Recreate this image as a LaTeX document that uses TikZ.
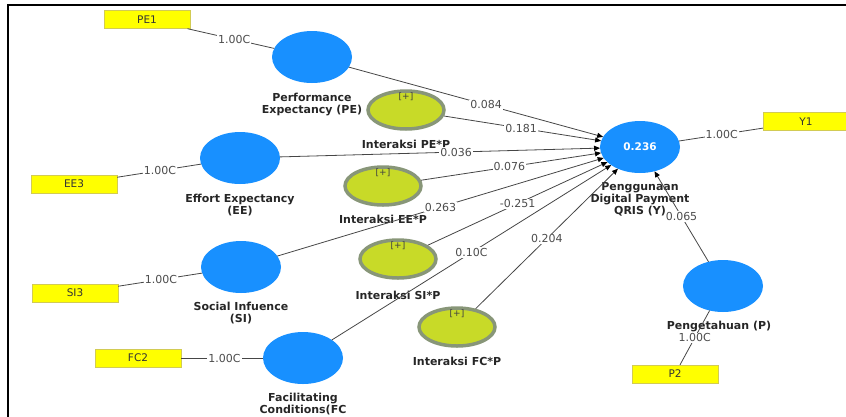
\documentclass[tikz,border=0pt]{standalone}
\usepackage{fontspec}
\setmainfont{DejaVu Sans}
\usepackage{tikz}
\usetikzlibrary{arrows.meta,shapes.geometric,positioning}
\definecolor{lvblue}{RGB}{24,144,255}
\definecolor{intgreen}{RGB}{200,218,40}
\definecolor{intrim}{RGB}{136,150,120}
\definecolor{indyellow}{RGB}{255,255,0}
\definecolor{pathgray}{RGB}{70,70,70}

\begin{document}
\begin{tikzpicture}[x=1pt,y=-1pt,>={Triangle[length=6pt,width=5pt,color=black]},
    latent/.style={ellipse,fill=lvblue,minimum width=80pt,minimum height=52pt,
                   inner sep=0pt,outer sep=0pt},
    inter/.style={ellipse,fill=intgreen,draw=intrim,line width=3.5pt,
                  minimum width=76pt,minimum height=38pt,inner sep=0pt,outer sep=1.75pt},
    ind/.style={rectangle,fill=indyellow,draw=yellow!60!gray,line width=0.4pt,
                minimum width=86pt,minimum height=18pt,inner sep=0pt,
                font=\fontsize{10.5}{12}\selectfont,text=black!80},
    lvname/.style={font=\bfseries\fontsize{11}{12}\selectfont,align=center,
                   inner sep=0pt,text=black!85},
    plus/.style={font=\fontsize{9}{10}\selectfont,text=black!75,inner sep=0pt},
    coef/.style={fill=white,inner sep=1pt,font=\fontsize{11}{12}\selectfont,text=black!70},
    link/.style={draw=pathgray,line width=0.8pt}]
    \useasboundingbox (0,0) rectangle (846,416);
    \draw[line width=2pt] (8,420) -- (8,5) -- (850,5);

    % latent variables
    \node[latent] (PE) at (312,57)  {};
    \node[latent] (EE) at (240,158) {};
    \node[latent] (SI) at (241,267) {};
    \node[latent] (FC) at (303,358) {};
    \node[latent] (P)  at (723,286) {};
    \node[latent,text=white,font=\bfseries\fontsize{10.5}{12}\selectfont] (Y) at (640,147) {0.236};

    \node[lvname,below=9.5pt of PE] (PEt) {Performance\\Expectancy (PE)};
    \node[lvname,below=9.5pt of EE] (EEt) {Effort Expectancy\\(EE)};
    \node[lvname,below=9pt of SI] (SIt) {Social Infuence\\(SI)};
    \node[lvname,below=9pt of FC] (FCt) {Facilitating\\Conditions(FC};
    \node[lvname,below=9pt of P,xshift=-4pt] (Pt) {Pengetahuan (P)};
    \node[lvname,below=9pt of Y] (Yt) {Penggunaan\\Digital Payment\\QRIS (Y)};

    % moderating effects
    \node[inter] (PEP) at (406,110) {};
    \node[inter] (EEP) at (383,186) {};
    \node[inter] (SIP) at (398,259) {};
    \node[inter] (FCP) at (457,327) {};
    \foreach \m in {PEP,EEP,SIP,FCP}{
        \node[plus] (\m+) at ([yshift=13pt]\m.center) {[+]};
    }
    \node[lvname,below=9pt of PEP] (PEPt) {Interaksi PE*P};
    \node[lvname,below=8pt of EEP] (EEPt) {Interaksi EE*P};
    \node[lvname,below=11pt of SIP] (SIPt) {Interaksi SI*P};
    \node[lvname,below=9pt of FCP] (FCPt) {Interaksi FC*P};

    % indicators
    \node[ind] (pe1) at (147,19.5) {PE1};
    \node[ind] (ee3) at (74,184)   {EE3};
    \node[ind] (si3) at (75,293)   {SI3};
    \node[ind] (fc2) at (138,358)  {FC2};
    \node[ind] (y1)  at (806,121.5) {Y1};
    \node[ind] (p2)  at (675,374)  {P2};

    \draw[link] (pe1) -- node[coef,pos=0.54] {1.00C} (PE);
    \draw[link] (ee3) -- node[coef,pos=0.51] {1.00C} (EE);
    \draw[link] (si3) -- node[coef,pos=0.51] {1.00C} (SI);
    \draw[link] (fc2) -- node[coef,pos=0.53] {1.00C} (FC);
    \draw[link] (Y)   -- node[coef,pos=0.51] {1.00C} (y1);
    \draw[link] (P)   -- node[coef,pos=0.5]  {1.00C} (p2);

    % structural paths
    \draw[link,->] (PE)  -- node[coef,pos=0.54] {0.084}  (Y);
    \draw[link,->] (PEP) -- node[coef,pos=0.49] {0.181}  (Y);
    \draw[link,->] (EE)  -- node[coef,pos=0.55] {0.036}  (Y);
    \draw[link,->] (EEP) -- node[coef,pos=0.49] {0.076}  (Y);
    \draw[link,->] (SI)  -- node[coef,pos=0.5]  {0.263}  (Y);
    \draw[link,->] (SIP) -- node[coef,pos=0.5]  {-0.251} (Y);
    \draw[link,->] (FC)  -- node[coef,pos=0.5]  {0.10C}  (Y);
    \draw[link,->] (FCP) -- node[coef,pos=0.5]  {0.204}  (Y);
    \draw[link,->] (P)   -- node[coef,pos=0.5]  {0.065}  (Y);
\end{tikzpicture}
\end{document}
